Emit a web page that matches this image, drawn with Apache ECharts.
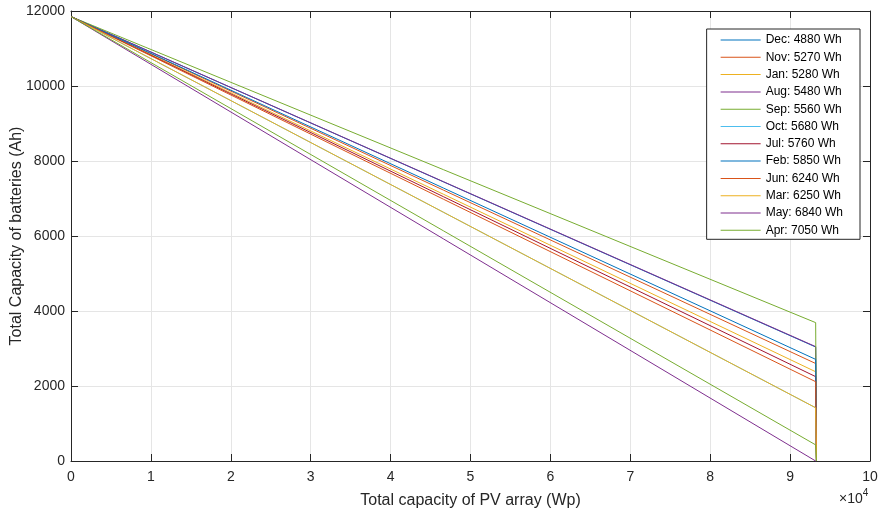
<!DOCTYPE html>
<html>
<head>
<meta charset="utf-8">
<script src="https://cdn.jsdelivr.net/npm/echarts@6/dist/echarts.min.js"></script>
<style>
  html, body { margin: 0; padding: 0; background: #fff; }
  #chart { width: 882px; height: 514px; }
</style>
</head>
<body>
<div id="chart"></div>
<script>
// Monthly daily load and battery capacity needed at the largest PV array size
const months = ['Dec', 'Nov', 'Jan', 'Aug', 'Sep', 'Oct', 'Jul', 'Feb', 'Jun', 'Mar', 'May', 'Apr'];
const loadsWh = [4880, 5270, 5280, 5480, 5560, 5680, 5760, 5850, 6240, 6250, 6840, 7050];
const startBattery = 11850;        // Ah with no PV array
const maxPV = 93200;               // Wp where each curve ends
const endBattery = [3040, 2600, 2380, 3050, 3690, 1420, 2250, 2710, 2115, 1420, 0, 430];
const dropPV = 93300;              // Wp where each curve reaches zero
const xTicks = [0, 1, 2, 3, 4, 5, 6, 7, 8, 9, 10];   // ×10^4 Wp
const colors = ['#0072BD', '#D95319', '#EDB120', '#7E2F8E', '#77AC30', '#4DBEEE', '#A2142F'];

const font = 'Liberation Sans, Arial, Helvetica, sans-serif';
const ink = '#262626';

const series = months.map((m, i) => ({
  name: m + ': ' + loadsWh[i] + ' Wh',
  type: 'line',
  symbol: 'none',
  animation: false,
  lineStyle: { width: 1, color: colors[i % colors.length] },
  itemStyle: { color: colors[i % colors.length] },
  data: [[0, startBattery], [maxPV, endBattery[i]], [dropPV, 0]]
}));

const chart = echarts.init(document.getElementById('chart'), null, { renderer: 'canvas' });
const boxAxis = {
  axisLine: { show: true, onZero: false, lineStyle: { color: ink, width: 1 } },
  axisTick: { show: true, inside: true, length: 7, lineStyle: { color: ink } },
  axisLabel: { show: false },
  splitLine: { show: false }
};
chart.setOption({
  animation: false,
  backgroundColor: '#fff',
  color: colors,
  grid: { left: 71, right: 12, top: 11, bottom: 53, containLabel: false, outerBoundsMode: 'none' },
  xAxis: [
    {
      type: 'value', min: 0, max: 100000, interval: 10000, position: 'bottom',
      name: 'Total capacity of PV array (Wp)', nameLocation: 'middle', nameGap: 32,
      nameMoveOverlap: false,
      nameTextStyle: { fontFamily: font, fontSize: 16, color: ink },
      axisLine: { show: true, onZero: false, lineStyle: { color: ink, width: 1 } },
      axisTick: { show: true, inside: true, length: 7, lineStyle: { color: ink } },
      axisLabel: {
        fontFamily: font, fontSize: 14, color: ink, margin: 9,
        formatter: v => String(xTicks[Math.round(v / 10000)])
      },
      splitLine: { show: true, lineStyle: { color: '#e5e5e5', width: 1 } }
    },
    Object.assign({ type: 'value', min: 0, max: 100000, interval: 10000, position: 'top' }, boxAxis)
  ],
  yAxis: [
    {
      type: 'value', min: 0, max: 12000, interval: 2000, position: 'left',
      name: 'Total Capacity of batteries (Ah)', nameLocation: 'middle', nameGap: 46,
      nameMoveOverlap: false,
      nameTextStyle: { fontFamily: font, fontSize: 16, color: ink },
      axisLine: { show: true, onZero: false, lineStyle: { color: ink, width: 1 } },
      axisTick: { show: true, inside: true, length: 7, lineStyle: { color: ink } },
      axisLabel: { fontFamily: font, fontSize: 14, color: ink, margin: 6, formatter: v => String(v) },
      splitLine: { show: true, lineStyle: { color: '#e5e5e5', width: 1 } }
    },
    Object.assign({ type: 'value', min: 0, max: 12000, interval: 2000, position: 'right' }, boxAxis)
  ],
  legend: {
    orient: 'vertical',
    right: 22, top: 29,
    icon: 'rect',
    itemWidth: 40, itemHeight: 1, itemGap: 5.3,
    padding: [5, 17, 3, 14],
    backgroundColor: '#fff',
    borderColor: ink, borderWidth: 1,
    textStyle: { fontFamily: font, fontSize: 12, color: '#000' },
    data: series.map(s => s.name)
  },
  graphic: [{
    type: 'text', left: 839, top: 488, silent: true,
    style: {
      text: '{a|×10}{b|4}',
      rich: {
        a: { fontFamily: font, fontSize: 14, fill: ink, verticalAlign: 'bottom' },
        b: { fontFamily: font, fontSize: 10, fill: ink, verticalAlign: 'top', padding: [0, 0, 8, 0] }
      }
    }
  }],
  series
});
</script>
</body>
</html>
